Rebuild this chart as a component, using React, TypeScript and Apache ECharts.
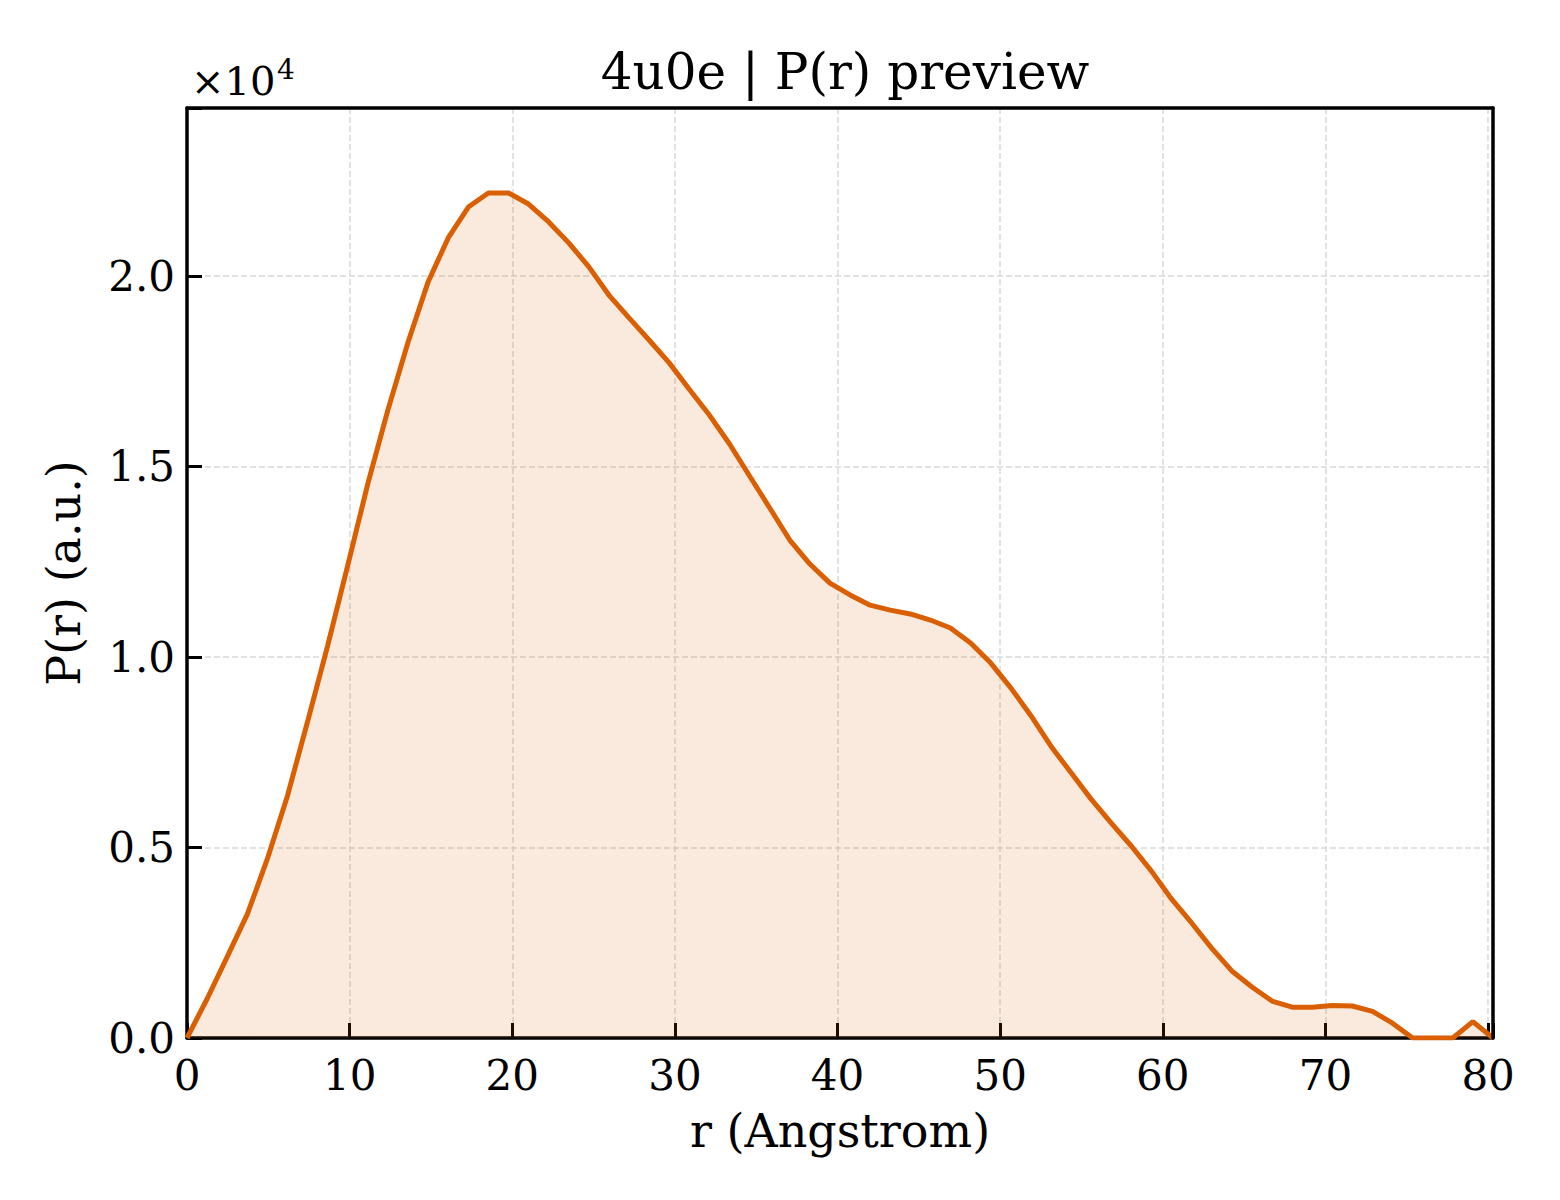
import { useEffect, useRef } from 'react'
import * as echarts from 'echarts'

// r grid (Angstrom)
const rValues = [
  0, 1.24, 2.47, 3.71, 4.94, 6.18, 7.41, 8.65, 9.88, 11.12,
  12.35, 13.59, 14.82, 16.06, 17.3, 18.53, 19.77, 21.0, 22.24, 23.47,
  24.71, 25.94, 27.18, 28.41, 29.65, 30.88, 32.12, 33.36, 34.59, 35.83,
  37.06, 38.3, 39.53, 40.77, 42.0, 43.24, 44.47, 45.71, 46.94, 48.18,
  49.42, 50.65, 51.89, 53.12, 54.36, 55.59, 56.83, 58.06, 59.3, 60.53,
  61.77, 63.0, 64.24, 65.48, 66.71, 67.95, 69.18, 70.42, 71.65, 72.89,
  74.12, 75.36, 76.59, 77.83, 79.06, 80.3,
]

// P(r) values (a.u.)
const prValues = [
  0, 1030, 2130, 3250, 4700, 6360, 8300, 10300, 12400, 14550,
  16480, 18260, 19840, 21000, 21810, 22180, 22180, 21890, 21420, 20870,
  20240, 19500, 18900, 18320, 17720, 17030, 16350, 15590, 14750, 13910,
  13070, 12440, 11940, 11630, 11360, 11230, 11130, 10970, 10760, 10370,
  9840, 9190, 8460, 7660, 6960, 6270, 5640, 5040, 4380, 3650,
  3020, 2360, 1760, 1340, 970, 810, 810, 850, 840, 700,
  390, 0, 0, 0, 430, 0,
]

const yTicks = [0, 5000, 10000, 15000, 20000]
const xTicks = [0, 10, 20, 30, 40, 50, 60, 70, 80]

const FONT = "'DejaVu Serif', 'Liberation Serif', serif"

const gridLine = { show: true, lineStyle: { color: '#d9d9d9', width: 1.5, type: [6, 3] } }
const tick = { show: true, inside: true, length: 15, lineStyle: { color: '#000', width: 3 } }
const spine = { show: true, onZero: false, lineStyle: { color: '#000', width: 3.5 } }

export default function App() {
  const chartRef = useRef<HTMLDivElement>(null)

  useEffect(() => {
    if (!chartRef.current) return
    const chart = echarts.init(chartRef.current, null, { renderer: 'svg' })

    const option: any = {
      animation: false,
      backgroundColor: '#fff',
      title: {
        text: '4u0e | P(r) preview',
        left: 840,
        top: 42,
        textAlign: 'center',
        textStyle: { fontFamily: FONT, fontSize: 50, fontWeight: 'normal', color: '#000' },
      },
      graphic: [
        {
          type: 'text',
          left: 191,
          top: 61,
          style: { text: '×10', fontFamily: FONT, fontSize: 40, fill: '#000' },
        },
        {
          type: 'text',
          left: 277,
          top: 55,
          style: { text: '4', fontFamily: FONT, fontSize: 28, fill: '#000' },
        },
      ],
      grid: {
        left: 187,
        right: 67,
        top: 108,
        bottom: 162,
      },
      xAxis: [
        {
          type: 'value',
          min: 0,
          max: 80.3,
          interval: 10,
          name: 'r (Angstrom)',
          nameLocation: 'middle',
          nameGap: 70,
          nameTextStyle: { fontFamily: FONT, fontSize: 46, color: '#000' },
          axisLine: spine,
          axisTick: tick,
          axisLabel: {
            margin: 16,
            fontFamily: FONT,
            fontSize: 42,
            color: '#000',
            formatter: (v: number) => (xTicks.includes(v) ? String(v) : ''),
          },
          splitLine: gridLine,
        },
        {
          type: 'value',
          position: 'top',
          min: 0,
          max: 80.3,
          z: 5,
          axisLine: spine,
          axisTick: { show: false },
          axisLabel: { show: false },
          splitLine: { show: false },
        },
      ],
      yAxis: [
        {
          type: 'value',
          min: 0,
          max: 24410,
          interval: 5000,
          name: 'P(r) (a.u.)',
          nameLocation: 'middle',
          nameGap: 100,
          nameTextStyle: { fontFamily: FONT, fontSize: 46, color: '#000' },
          axisLine: spine,
          axisTick: tick,
          axisLabel: {
            margin: 12,
            fontFamily: FONT,
            fontSize: 42,
            color: '#000',
            formatter: (v: number) => (yTicks.includes(v) ? (v / 10000).toFixed(1) : ''),
          },
          splitLine: gridLine,
        },
        {
          type: 'value',
          position: 'right',
          min: 0,
          max: 24410,
          z: 5,
          axisLine: spine,
          axisTick: { show: false },
          axisLabel: { show: false },
          splitLine: { show: false },
        },
      ],
      series: [
        {
          type: 'line',
          data: rValues.map((r, i) => [r, prValues[i]]),
          showSymbol: false,
          lineStyle: { color: '#d95f02', width: 5 },
          areaStyle: { color: 'rgba(217,95,2,0.13)', opacity: 1, origin: 'start' },
          z: 3,
        },
      ],
    }

    chart.setOption(option)

    return () => {
      chart.dispose()
    }
  }, [])

  return (
    <div
      ref={chartRef}
      style={{ position: 'absolute', left: 0, top: 0, width: '1560px', height: '1200px' }}
    />
  )
}
